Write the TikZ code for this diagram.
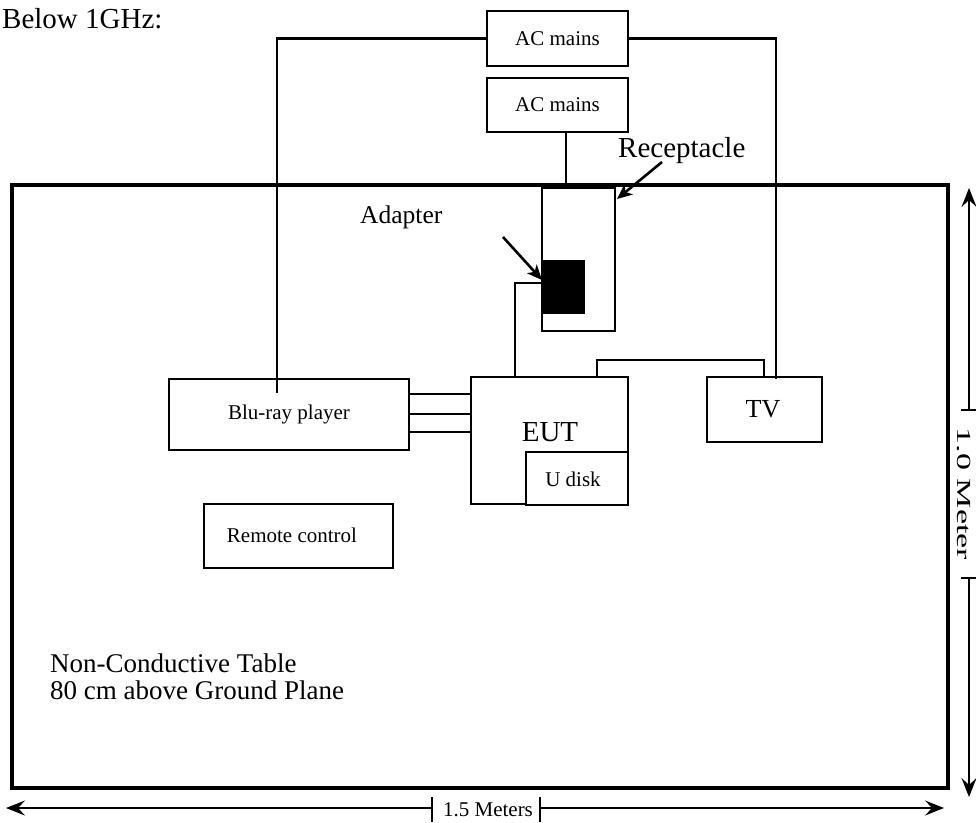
\documentclass[tikz,border=0pt]{standalone}
\usepackage{fontspec}
\setmainfont{Liberation Serif}
\usetikzlibrary{arrows.meta}
\begin{document}
\begin{tikzpicture}[x=1pt,y=-1pt,
  box/.style={draw,line width=2.2pt,inner sep=0pt,font=\fontsize{21}{24}\selectfont},
  lbl/.style={inner sep=0pt},
  wire/.style={line width=2.2pt},
  callout/.style={line width=2.6pt,-{Stealth[length=15pt,width=13pt,inset=4pt]}},
  dim/.style={line width=1.8pt},
  dimtip/.style={line width=1.8pt,{Stealth[length=19pt,width=15pt,inset=7pt]}-}]
\useasboundingbox (0,0) rectangle (976,822);
% table
\draw[line width=3.2pt] (12,185) rectangle (948,788);
% boxes
\node[box,minimum width=141pt,minimum height=55pt] (acm1) at (557.5,38.5) {AC mains};
\node[box,minimum width=141pt,minimum height=54pt] (acm2) at (557.5,105) {AC mains};
\node[box,minimum width=73pt,minimum height=143pt] (recept) at (578.5,259.5) {};
\node[draw,fill=black,line width=1pt,inner sep=0pt,minimum width=42pt,minimum height=53pt] (adapter) at (563,286.5) {};
\node[box,minimum width=240pt,minimum height=71pt] (bluray) at (289,414.5) {Blu-ray player};
\node[box,minimum width=157pt,minimum height=127pt] (eut) at (549.5,440.5) {};
\node[box,minimum width=102pt,minimum height=53pt,fill=white] (udisk) at (577,478.5) {};
\node[box,minimum width=115pt,minimum height=65pt] (tv) at (764.5,409.5) {};
\node[box,minimum width=189pt,minimum height=64pt] (remote) at (298.5,536) {};
% box texts
\node[lbl,anchor=base,font=\fontsize{29}{32}\selectfont] (euttext) at (550,441) {EUT};
\node[lbl,anchor=base,font=\fontsize{21}{24}\selectfont] (udisktext) at (573,486) {U disk};
\node[lbl,anchor=base,font=\fontsize{26}{30}\selectfont] (tvtext) at (763,417) {TV};
\node[lbl,font=\fontsize{21}{24}\selectfont] (remotetext) at (292,535) {Remote control};
% free labels
\node[lbl,anchor=base west,font=\fontsize{29}{32}\selectfont] (title) at (2,28) {Below 1GHz:};
\node[lbl,anchor=base west,font=\fontsize{29}{32}\selectfont] (receptlabel) at (618,157) {Receptacle};
\node[lbl,anchor=base west,font=\fontsize{25.5}{30}\selectfont] (adaptlabel) at (360,223) {Adapter};
\node[lbl,anchor=base west,font=\fontsize{27}{27}\selectfont,align=left] (tabletext) at (50,699) {Non-Conductive Table\\80 cm above Ground Plane};
% wires
\coordinate (bluin) at (277,393);
\coordinate (tvin) at (776,379);
\coordinate (c566) at (566,0);
\coordinate (c515) at (515,0);
\coordinate (c597) at (597,0);
\coordinate (mid) at (764,360);
\draw[wire] (acm1.west) -| (bluin);
\draw[wire] (acm1.east) -| (tvin);
\draw[wire] (acm2.south -| c566) -- (recept.north -| c566);
\draw[wire] ([yshift=3.5pt]adapter.west) -| (eut.north -| c515);
\draw[wire] (eut.north -| c597) |- (mid) -- (mid |- tv.north);
\coordinate (y1) at (0,394);
\coordinate (y2) at (0,414);
\coordinate (y3) at (0,432);
\draw[wire] (bluray.east |- y1) -- (eut.west |- y1);
\draw[wire] (bluray.east |- y2) -- (eut.west |- y2);
\draw[wire] (bluray.east |- y3) -- (eut.west |- y3);
% callouts
\coordinate (a0) at (503,237);
\coordinate (a1) at (542,280);
\coordinate (r0) at (662,162);
\coordinate (r1) at (617,199);
\draw[callout] (a0) -- (a1);
\draw[callout] (r0) -- (r1);
% bottom dimension
\coordinate (bl) at (6,808);
\coordinate (bt1) at (432,808);
\coordinate (bt2) at (540,808);
\coordinate (br) at (944,808);
\draw[dimtip] (bl) -- (bt1);
\draw[dim] (432,797) -- (432,822);
\node[lbl,anchor=base,font=\fontsize{21}{24}\selectfont] (blabel) at (488,816) {1.5 Meters};
\draw[dim] (540,797) -- (540,822);
\draw[dimtip] (br) -- (bt2);
% right dimension
\coordinate (rt) at (969,188);
\coordinate (rt1) at (969,410);
\coordinate (rt2) at (969,578);
\coordinate (rb) at (969,797);
\draw[dimtip] (rt) -- (rt1);
\draw[dim] (961,410) -- (976,410);
\node[lbl,rotate=-90,font=\fontsize{20}{24}\selectfont] (rlabel) at (964,494) {\scalebox{1.7}[1]{1.0 Meter}};
\draw[dim] (961,578) -- (976,578);
\draw[dimtip] (rb) -- (rt2);
\end{tikzpicture}
\end{document}
